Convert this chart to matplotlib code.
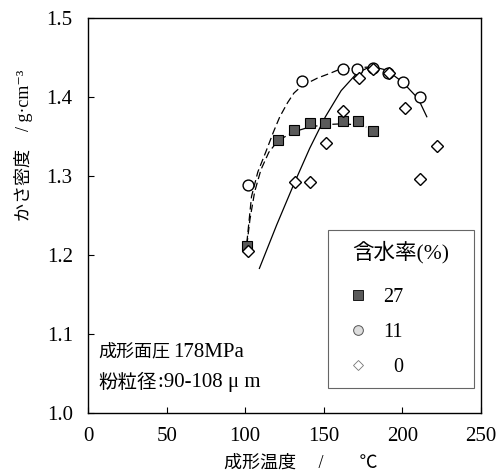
import numpy as np
import matplotlib.pyplot as plt
from matplotlib.lines import Line2D

plt.rcParams['font.family'] = ['Liberation Serif', 'Noto Sans CJK JP', 'DejaVu Sans']

# moisture 27 %
t27 = [101, 121, 131, 141, 151, 162, 172, 181]
d27 = [1.212, 1.346, 1.358, 1.367, 1.367, 1.369, 1.370, 1.357]
# moisture 11 %
t11 = [101.5, 136, 162, 171, 181.5, 191, 200.5, 211]
d11 = [1.289, 1.420, 1.436, 1.436, 1.437, 1.431, 1.419, 1.400]
# moisture 0 %
t0 = [101.5, 131.5, 141, 151.5, 162.5, 172.5, 181.5, 191.5, 201.5, 211, 222]
d0 = [1.205, 1.293, 1.293, 1.342, 1.382, 1.424, 1.436, 1.430, 1.386, 1.296, 1.338]

# fitted curves
fit27_t = [101, 103, 106, 110, 115, 121, 131, 141, 151, 161, 170, 177]
fit27_d = [1.212, 1.245, 1.280, 1.308, 1.330, 1.345, 1.356, 1.362, 1.365, 1.366, 1.365, 1.362]
fit11_t = [101, 104, 108, 113, 118, 122, 127, 131, 136, 146, 154, 160, 170, 180]
fit11_d = [1.215, 1.274, 1.305, 1.330, 1.356, 1.375, 1.393, 1.405, 1.414, 1.424, 1.430, 1.435, 1.437, 1.438]
fit0_t = [109, 120, 131, 141, 151, 161, 171, 180, 190, 200, 210, 215.5]
fit0_d = [1.183, 1.238, 1.290, 1.335, 1.375, 1.408, 1.430, 1.439, 1.434, 1.419, 1.398, 1.375]

fig = plt.figure(figsize=(4.99, 4.76), dpi=100)
ax = fig.add_axes([0.1764, 0.1324, 0.7876, 0.8298])

ax.plot(fit27_t, fit27_d, color='black', lw=0.9, dashes=(6, 3))
ax.plot(fit11_t, fit11_d, color='black', lw=0.9, dashes=(6, 3))
ax.plot(fit0_t, fit0_d, color='black', lw=0.9)

ax.plot(t27, d27, 's', ms=7.8, mfc='#5a5a5a', mec='black', mew=0.8, ls='none')
ax.plot(t11, d11, 'o', ms=7.8, mfc='white', mec='black', mew=1.0, ls='none')
ax.plot(t0, d0, 'D', ms=6.5, mfc='white', mec='black', mew=1.0, ls='none')

ax.set_xlim(0, 250)
ax.set_ylim(1.0, 1.5)
ax.set_xticks([0, 50, 100, 150, 200, 250])
ax.set_yticks([1.0, 1.1, 1.2, 1.3, 1.4, 1.5])
ax.set_yticklabels(['1.0', '1.1', '1.2', '1.3', '1.4', '1.5'])
ax.tick_params(direction='in', length=4, labelsize=15)
ax.tick_params(axis='x', pad=10)
ax.tick_params(axis='y', pad=11)
for s in ax.spines.values():
    s.set_linewidth(1.0)

ax.set_xlabel('成形温度　 /　　℃', fontsize=13)
ax.xaxis.set_label_coords(0.54, -0.105)
ax.set_ylabel('かさ密度　/ g·cm⁻³', fontsize=13)
ax.yaxis.set_label_coords(-0.14, 0.678)

# condition notes
ax.text(6.4, 1.077, '成形面圧', fontsize=13, va='center')
ax.text(54, 1.077, '178MPa', fontsize=15, va='center')
ax.text(6.4, 1.038, '粉粒径', fontsize=14, va='center')
ax.text(44.5, 1.038, ':90-108 μ m', fontsize=15, va='center')

handles = [
    Line2D([], [], marker='s', ls='none', ms=6.5, mfc='#5a5a5a', mec='black', mew=0.6),
    Line2D([], [], marker='o', ls='none', ms=7, mfc='#dddddd', mec='#555555', mew=0.7),
    Line2D([], [], marker='D', ls='none', ms=5, mfc='white', mec='#777777', mew=0.6),
]
leg = ax.legend(handles, ['27', '11', '  0'], title='含水率(%)', loc='lower left',
                bbox_to_anchor=(0.611, 0.063, 0.371, 0.4), mode='expand', borderaxespad=0,
                fontsize=14.5, title_fontsize=15.5,
                frameon=True, fancybox=False, edgecolor='#666666', framealpha=1,
                borderpad=0.55, labelspacing=0.8, handlelength=1.9, handletextpad=0.3)
leg._legend_box.sep = 17
leg.get_frame().set_linewidth(0.8)

fig.savefig('out.png', dpi=100)
